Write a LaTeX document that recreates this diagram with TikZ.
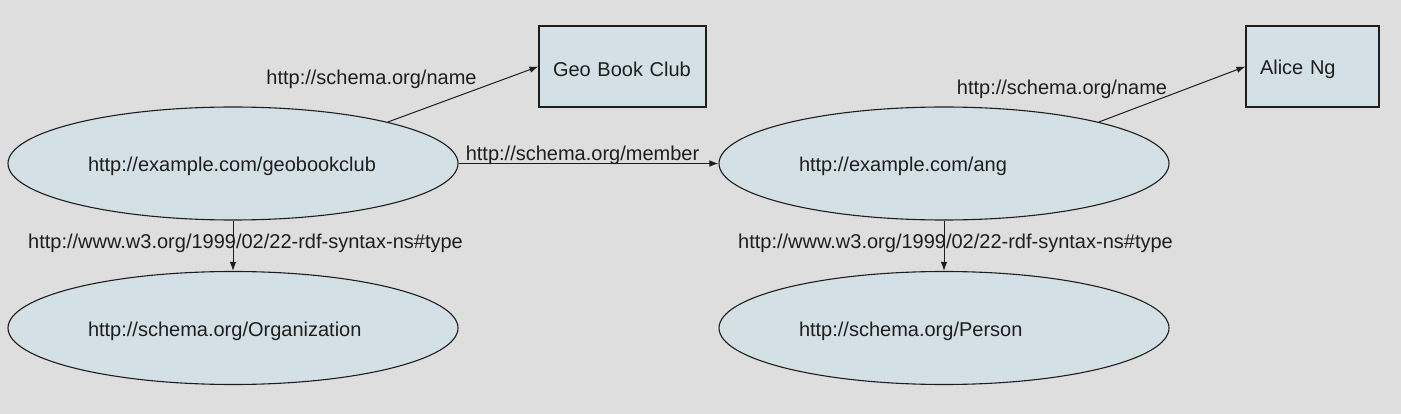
\documentclass[tikz,border=0pt]{standalone}
\usepackage{fontspec}
\setmainfont{Liberation Sans}
\usetikzlibrary{shapes.geometric,arrows.meta}
\definecolor{bgc}{RGB}{222,222,222}
\definecolor{nodefill}{RGB}{211,224,229}
\definecolor{inkc}{RGB}{30,30,30}
\newcommand{\lowertext}[1]{\raisebox{-3pt}[\height][\depth]{#1}}
\begin{document}
\begin{tikzpicture}[x=1pt,y=-1pt,
  font=\fontsize{20}{24}\selectfont,
  every node/.style={text=inkc},
  res/.style={ellipse,draw=inkc,fill=nodefill,line width=1.1pt,minimum width=450pt,minimum height=113pt,inner sep=0pt,text width=290pt,align=left},
  lit/.style={rectangle,draw=inkc,fill=nodefill,line width=1.1pt,minimum height=81pt,inner xsep=14pt,inner ysep=0pt,align=left},
  edgelabel/.style={inner sep=0pt},
  conn/.style={draw=inkc,line width=1pt,-{Latex[length=9pt,width=6.5pt]}}]
\fill[bgc] (0,0) rectangle (1401,414);
\useasboundingbox (0,0) rectangle (1401,414);

\node[res] (gbc) at (233,163.5) {\lowertext{http://example.com/geobookclub}};
\node[res] (org) at (233,328) {\lowertext{http://schema.org/Organization}};
\node[res] (ang) at (944,163.5) {\lowertext{http://example.com/ang}};
\node[res] (per) at (944,328) {\lowertext{http://schema.org/Person}};
\node[lit,minimum width=167pt,text width=139pt] (gname) at (622.5,66.5) {\lowertext{Geo Book Club}};
\node[lit,minimum width=133pt,text width=105pt] (aname) at (1312.5,66.5) {\lowertext{Alice Ng}};

\draw[conn] (gbc.15) -- (gname.west);
\draw[conn] (gbc.east) -- (ang.west);
\draw[conn] (gbc.south) -- (org.north);
\draw[conn] (ang.15) -- (aname.west);
\draw[conn] (ang.south) -- (per.north);

\node[edgelabel] (l1) at (371.5,79) {http://schema.org/name};
\node[edgelabel] (l2) at (582.5,155) {http://schema.org/member};
\node[edgelabel] (l3) at (245.5,243) {http://www.w3.org/1999/02/22-rdf-syntax-ns\#type};
\node[edgelabel] (l4) at (955.5,243) {http://www.w3.org/1999/02/22-rdf-syntax-ns\#type};
\node[edgelabel] (l5) at (1062,89) {http://schema.org/name};
\end{tikzpicture}
\end{document}
